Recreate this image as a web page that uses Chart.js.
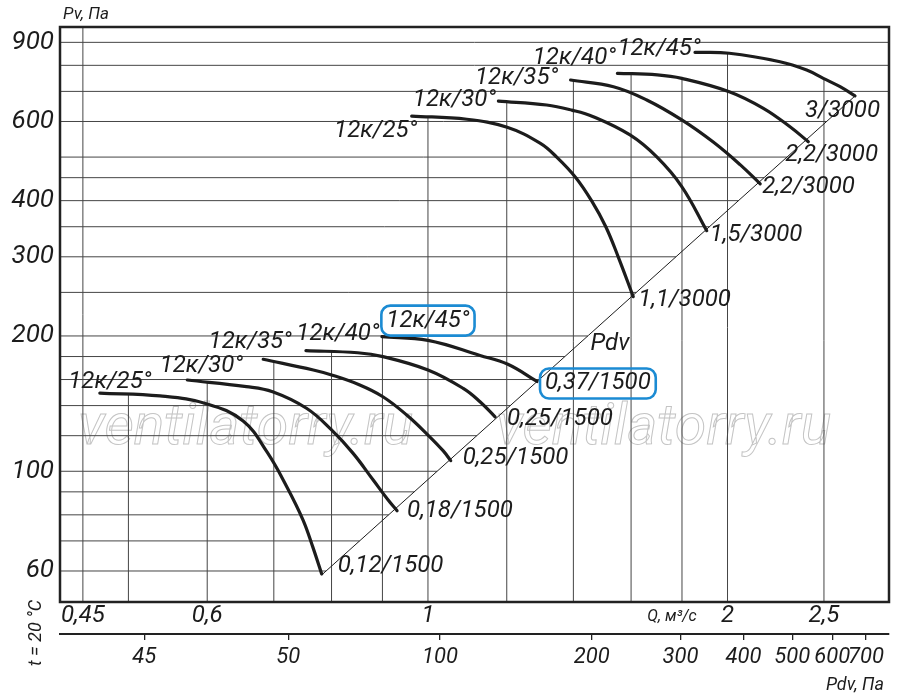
<!DOCTYPE html>
<html>
<head>
<meta charset="utf-8">
<title>Pv - Q</title>
<script src="https://cdn.jsdelivr.net/npm/chart.js"></script>
<style>
    body { margin: 0; background: #fff; }
    #wrap { width: 900px; height: 699px; position: relative; }
</style>
</head>
<body>
<div id="wrap"><canvas id="fanChart"></canvas></div>
<script>
    // axes
    const qTicks = [0.45, 0.6, 1, 2, 2.5];
    const qTickLabels = ['0,45', '0,6', '1', '2', '2,5'];
    const pvTicks = [60, 100, 200, 300, 400, 600, 900];
    const pdvTicks = [25.9, 50, 100, 200, 300, 400, 500, 600, 700];
    const pdvTickLabels = ['45', '50', '100', '200', '300', '400', '500', '600', '700'];
    const qRange = [0.4268, 2.906];
    const pvRange = [51.19, 973.6];
    const pdvRange = [17.62, 777.8];

    // grid
    const qGrid = [0.45, 0.5, 0.6, 0.7, 0.8, 0.9, 1, 1.2, 1.4, 1.6, 1.8, 2, 2.5];
    const pvGrid = [60, 70, 80, 90, 100, 120, 140, 160, 180, 200, 250, 300, 350, 400, 450, 500, 600, 700, 800, 900];

    // Pdv line (Q, Pv)
    const pdvLine = [[0.782, 58.8], [2.686, 683.7]];

    // curves, 1500 rpm (Q m3/s, Pv Pa)
    const low25 = [[0.468, 149.3], [0.538, 147.1], [0.600, 141.2], [0.652, 129.4], [0.689, 110.4], [0.7215, 92.3], [0.749, 77.9], [0.766, 67.9], [0.782, 59.1]];
    const low30 = [[0.573, 159.6], [0.657, 154.3], [0.698, 150.3], [0.755, 138.1], [0.800, 123.6], [0.841, 109.6], [0.881, 95.6], [0.912, 86.3], [0.931, 81.7]];
    const low35 = [[0.683, 177.5], [0.767, 168.0], [0.800, 163.8], [0.854, 155.6], [0.901, 146.5], [0.952, 133.4], [1.0, 120.4], [1.036, 111.0], [1.054, 105.6]];
    const low40 = [[0.754, 185.5], [0.850, 183.5], [0.901, 179.9], [1.0, 168.0], [1.085, 152.9], [1.128, 142.8], [1.168, 132.2]];
    const low45 = [[0.899, 199.3], [1.0, 195.5], [1.128, 181.0], [1.203, 173.0], [1.287, 158.4]];

    // curves, 3000 rpm
    const top25 = [[0.963, 617], [1.094, 607], [1.201, 582.5], [1.296, 537], [1.347, 500], [1.408, 450], [1.460, 400], [1.509, 350], [1.553, 300], [1.608, 244.6]];
    const top30 = [[1.177, 666], [1.316, 653], [1.395, 636], [1.466, 615], [1.596, 560], [1.697, 501], [1.799, 430], [1.906, 343]];
    const top35 = [[1.391, 742], [1.536, 717], [1.659, 670], [1.799, 605], [1.935, 540], [2.059, 481], [2.157, 436]];
    const top40 = [[1.55, 768], [1.700, 762], [1.799, 748.5], [2.008, 699], [2.173, 642], [2.311, 584], [2.411, 541]];
    const top45 = [[1.855, 855], [2.008, 851], [2.258, 815], [2.402, 781], [2.496, 748.5], [2.595, 717], [2.686, 684]];

    const lowBlades = ['12к/25°', '12к/30°', '12к/35°', '12к/40°', '12к/45°'];
    const lowMotors = ['0,12/1500', '0,18/1500', '0,25/1500', '0,25/1500', '0,37/1500'];
    const topBlades = ['12к/25°', '12к/30°', '12к/35°', '12к/40°', '12к/45°'];
    const topMotors = ['1,1/3000', '1,5/3000', '2,2/3000', '2,2/3000', '3/3000'];

    const lowCurves = [low25, low30, low35, low40, low45];
    const topCurves = [top25, top30, top35, top40, top45];
    const allCurves = lowCurves.concat(topCurves);

    // label placement (pixels from the curve ends)
    const lowStartOff = [[10, -11], [14, -14], [-13, -17], [32, -17], [46, -16]];
    const topStartOff = [[-36, 15], [-44, -1], [-54, -2], [-43, -15], [-36, -3]];
    const lowEndOff = [[16, -8], [10, 0], [12, -3], [12, 2], [8, 2]];
    const topEndOff = [[5, 3], [3, 4], [2, 3], [-23, 13], [-50, 15]];
    const boxedLow = 4;

    const ink = '#1c1c1c';
    const labelFont = 'italic 24px Roboto';

    // interpolation in log-log space
    function logInterp(pts, v) {
        for (let i = 0; i < pts.length - 1; i++) {
            const a = pts[i], b = pts[i + 1];
            if (v >= a[0] && v <= b[0]) {
                const t = (Math.log(v) - Math.log(a[0])) / (Math.log(b[0]) - Math.log(a[0]));
                return Math.exp(Math.log(a[1]) + t * (Math.log(b[1]) - Math.log(a[1])));
            }
        }
        return null;
    }

    const toXY = pts => pts.map(p => ({ x: p[0], y: p[1] }));

    const datasets = [];

    // vertical grid: up to the highest curve
    qGrid.forEach(q => {
        let top = null;
        allCurves.forEach(c => {
            const v = logInterp(c, q);
            if (v !== null && (top === null || v > top)) top = v;
        });
        if (top === null) top = pvRange[1];
        datasets.push({ data: [{ x: q, y: pvRange[0] }, { x: q, y: top }], borderColor: '#454545', borderWidth: 1, order: 10 });
    });

    // horizontal grid: up to the Pdv line
    const diagInv = pdvLine.map(p => [p[1], p[0]]);
    pvGrid.forEach(pv => {
        let qEnd = pv >= pdvLine[1][1] ? qRange[1] : logInterp(diagInv, pv);
        datasets.push({ data: [{ x: qRange[0], y: pv }, { x: qEnd, y: pv }], borderColor: '#454545', borderWidth: 1, order: 10 });
    });

    datasets.push({ data: toXY(pdvLine), borderColor: ink, borderWidth: 1, order: 5 });

    allCurves.forEach(c => {
        datasets.push({ data: toXY(c), borderColor: ink, borderWidth: 3.2, tension: 0.4, borderCapStyle: 'round', order: 1 });
    });

    function roundBox(ctx, x, y, w, h, r) {
        ctx.beginPath();
        ctx.moveTo(x + r, y);
        ctx.lineTo(x + w - r, y);
        ctx.arcTo(x + w, y, x + w, y + r, r);
        ctx.lineTo(x + w, y + h - r);
        ctx.arcTo(x + w, y + h, x + w - r, y + h, r);
        ctx.lineTo(x + r, y + h);
        ctx.arcTo(x, y + h, x, y + h - r, r);
        ctx.lineTo(x, y + r);
        ctx.arcTo(x, y, x + r, y, r);
        ctx.closePath();
        ctx.stroke();
    }

    function label(ctx, text, x, y, align, boxed) {
        ctx.textAlign = align;
        ctx.textBaseline = 'middle';
        ctx.fillText(text, x, y);
        if (boxed) {
            const w = ctx.measureText(text).width;
            const left = align === 'center' ? x - w / 2 : x;
            ctx.save();
            ctx.strokeStyle = '#1b8bd3';
            ctx.lineWidth = 2.6;
            roundBox(ctx, left - 5, y - 15, w + 10, 30, 9);
            ctx.restore();
        }
    }

    const extras = {
        id: 'extras',
        beforeDatasetsDraw(chart) {
            const ctx = chart.ctx;
            const a = chart.chartArea;
            ctx.save();
            ctx.font = 'italic 57px Roboto';
            ctx.strokeStyle = '#c4c4c4';
            ctx.lineWidth = 1;
            ctx.textAlign = 'left';
            ctx.textBaseline = 'alphabetic';
            ctx.strokeText('ventilatorry.ru', a.left + 18, a.top + 417);
            ctx.strokeText('ventilatorry.ru', a.left + 436, a.top + 417);
            ctx.restore();
        },
        afterDatasetsDraw(chart) {
            const ctx = chart.ctx;
            const a = chart.chartArea;
            const sx = chart.scales.x, sy = chart.scales.y;
            ctx.save();
            ctx.strokeStyle = '#222';
            ctx.lineWidth = 2.5;
            ctx.strokeRect(a.left, a.top, a.right - a.left, a.bottom - a.top);

            ctx.fillStyle = ink;
            ctx.font = labelFont;
            const put = (curves, blades, motors, sOff, eOff, boxIdx) => {
                curves.forEach((c, i) => {
                    const s = c[0], e = c[c.length - 1];
                    label(ctx, blades[i], sx.getPixelForValue(s[0]) + sOff[i][0], sy.getPixelForValue(s[1]) + sOff[i][1], 'center', i === boxIdx);
                    label(ctx, motors[i], sx.getPixelForValue(e[0]) + eOff[i][0], sy.getPixelForValue(e[1]) + eOff[i][1], 'left', i === boxIdx);
                });
            };
            put(lowCurves, lowBlades, lowMotors, lowStartOff, lowEndOff, boxedLow);
            put(topCurves, topBlades, topMotors, topStartOff, topEndOff, -1);

            // Pdv line caption
            label(ctx, 'Pdv', a.left + 550, a.top + 317, 'center', false);
            ctx.restore();
        },
        afterDraw(chart) {
            const ctx = chart.ctx;
            ctx.save();
            ctx.fillStyle = ink;
            ctx.textBaseline = 'middle';
            ctx.font = 'italic 17px Roboto';
            ctx.textAlign = 'center';
            ctx.fillText('Pv, Па', 86, 15);
            ctx.font = 'italic 16px Roboto';
            ctx.fillText('Q, м³/с', 672, 617);
            ctx.font = 'italic 18px Roboto';
            ctx.fillText('Pdv, Па', 855, 685);
            ctx.translate(36, 633);
            ctx.rotate(-Math.PI / 2);
            ctx.font = 'italic 18px Roboto';
            ctx.fillText('t = 20 °C', 0, 0);
            ctx.restore();
        }
    };

    const tickFont = { family: 'Roboto', size: 24, style: 'italic' };

    new Chart(document.getElementById('fanChart'), {
        type: 'scatter',
        data: { datasets: datasets },
        options: {
            responsive: true,
            maintainAspectRatio: false,
            animation: false,
            showLine: true,
            layout: { padding: { top: 27, right: 11, bottom: 0, left: 0 } },
            elements: { point: { radius: 0, hoverRadius: 0 }, line: { fill: false } },
            plugins: { legend: { display: false }, tooltip: { enabled: false } },
            events: [],
            scales: {
                x: {
                    type: 'logarithmic',
                    position: 'bottom',
                    weight: 0,
                    min: qRange[0],
                    max: qRange[1],
                    grid: { display: false, drawTicks: false },
                    border: { display: false },
                    afterBuildTicks: s => { s.ticks = qTicks.map(v => ({ value: v })); },
                    afterFit: s => { s.height = 32; },
                    ticks: {
                        autoSkip: false, maxRotation: 0, minRotation: 0, padding: 0,
                        color: ink, font: tickFont,
                        callback: (v, i) => qTickLabels[i]
                    }
                },
                x2: {
                    type: 'logarithmic',
                    position: 'bottom',
                    weight: 1,
                    min: pdvRange[0],
                    max: pdvRange[1],
                    grid: { display: true, drawOnChartArea: false, drawTicks: true, tickLength: 6, color: '#222', lineWidth: 1.3 },
                    border: { display: true, color: '#222', width: 2 },
                    afterBuildTicks: s => { s.ticks = pdvTicks.map(v => ({ value: v })); },
                    afterFit: s => { s.height = 65; },
                    ticks: {
                        autoSkip: false, maxRotation: 0, minRotation: 0, padding: 4,
                        color: ink, font: { family: 'Roboto', size: 22, style: 'italic' },
                        callback: (v, i) => pdvTickLabels[i]
                    }
                },
                y: {
                    type: 'logarithmic',
                    position: 'left',
                    min: pvRange[0],
                    max: pvRange[1],
                    grid: { display: false, drawTicks: false },
                    border: { display: false },
                    afterBuildTicks: s => { s.ticks = pvTicks.map(v => ({ value: v })); },
                    afterFit: s => { s.width = 60; },
                    ticks: {
                        autoSkip: false, padding: 6,
                        color: ink, font: { family: 'Roboto', size: 26, style: 'italic' },
                        callback: v => String(v)
                    }
                }
            }
        },
        plugins: [extras]
    });
</script>
</body>
</html>
